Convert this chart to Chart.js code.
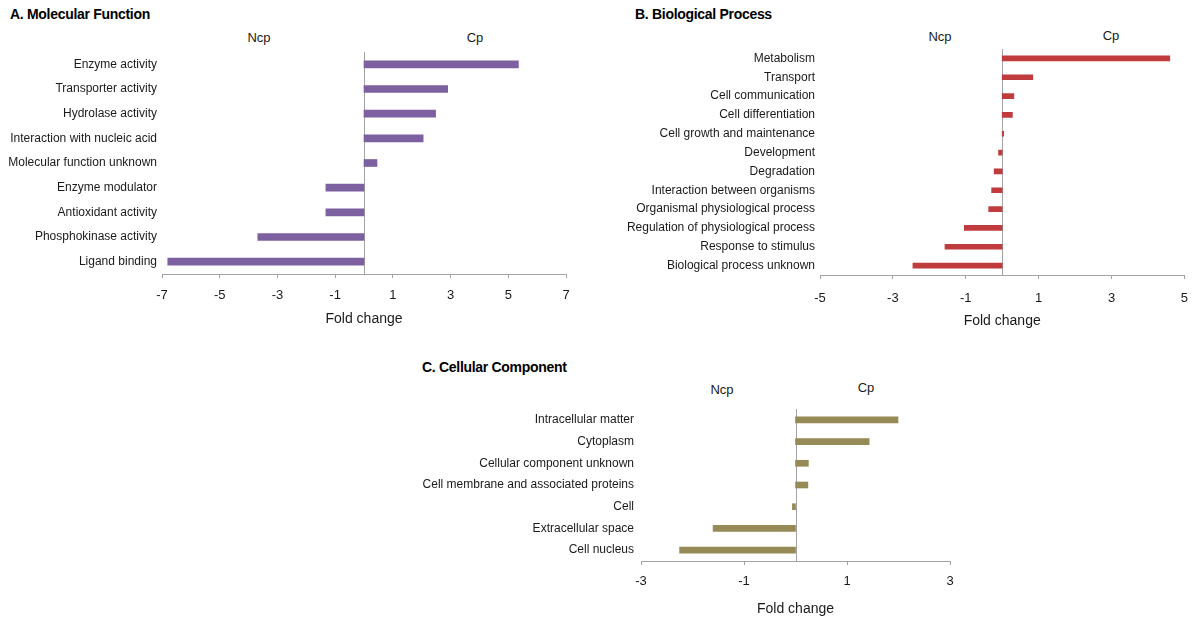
<!DOCTYPE html>
<html><head><meta charset="utf-8">
<script src="https://cdn.jsdelivr.net/npm/chart.js@4.4.0/dist/chart.umd.min.js"></script>
<style>
body{margin:0;background:#fff;width:1200px;height:618px;overflow:hidden;position:relative;font-family:"Liberation Sans",Arial,sans-serif;}
.t{position:absolute;font-weight:bold;font-size:14px;letter-spacing:-0.3px;color:#000;line-height:16px;transform:translateY(-50%);white-space:nowrap;}
.lab{position:absolute;font-size:13px;color:#1a1a1a;transform:translate(-50%,-50%);line-height:15px;}
canvas{position:absolute;}
</style></head><body>
<div class="t" style="left:10px;top:14px">A. Molecular Function</div>
<div class="t" style="left:635px;top:14px">B. Biological Process</div>
<div class="t" style="left:422px;top:367px">C. Cellular Component</div>
<div class="lab" style="left:259px;top:37px">Ncp</div>
<div class="lab" style="left:475px;top:37px">Cp</div>
<div class="lab" style="left:940px;top:36px">Ncp</div>
<div class="lab" style="left:1111px;top:35px">Cp</div>
<div class="lab" style="left:722px;top:389px">Ncp</div>
<div class="lab" style="left:866px;top:387px">Cp</div>
<canvas id="cA" width="600" height="330" style="left:0;top:0"></canvas>
<canvas id="cB" width="600" height="330" style="left:600px;top:0"></canvas>
<canvas id="cC" width="600" height="268" style="left:400px;top:350px"></canvas>
<script>
// A. Molecular Function
const mfCategories = ["Enzyme activity","Transporter activity","Hydrolase activity","Interaction with nucleic acid","Molecular function unknown","Enzyme modulator","Antioxidant activity","Phosphokinase activity","Ligand binding"];
const mfValues = [5.35, 2.9, 2.48, 2.05, 0.45, -1.32, -1.32, -3.68, -6.8];
const mfTicks = [-7, -5, -3, -1, 1, 3, 5, 7];

// B. Biological Process
const bpCategories = ["Metabolism","Transport","Cell communication","Cell differentiation","Cell growth and maintenance","Development","Degradation","Interaction between organisms","Organismal physiological process","Regulation of physiological process","Response to stimulus","Biological process unknown"];
const bpValues = [4.6, 0.84, 0.32, 0.28, 0.04, -0.1, -0.22, -0.29, -0.37, -1.04, -1.57, -2.45];
const bpTicks = [-5, -3, -1, 1, 3, 5];

// C. Cellular Component
const ccCategories = ["Intracellular matter","Cytoplasm","Cellular component unknown","Cell membrane and associated proteins","Cell","Extracellular space","Cell nucleus"];
const ccValues = [1.99, 1.43, 0.25, 0.24, -0.06, -1.6, -2.25];
const ccTicks = [-3, -1, 1, 3];

const AXIS = '#a3a3a3';
const TXT = '#1a1a1a';
const FONT = '"Liberation Sans", Arial, sans-serif';

const zeroLine = {
  id: 'zeroLine',
  beforeDatasetsDraw(chart) {
    const ctx = chart.ctx;
    const x = Math.round(chart.scales.x.getPixelForValue(0)) + 0.5;
    const {top, bottom} = chart.chartArea;
    ctx.save();
    ctx.strokeStyle = AXIS;
    ctx.lineWidth = 1;
    ctx.beginPath();
    ctx.moveTo(x, top);
    ctx.lineTo(x, bottom);
    ctx.stroke();
    ctx.restore();
  }
};

function makeChart(id, cats, vals, ticks, color, g) {
  new Chart(document.getElementById(id), {
    type: 'bar',
    data: { labels: cats, datasets: [{ data: vals, backgroundColor: color, borderWidth: 0, barThickness: g.bar }] },
    plugins: [zeroLine],
    options: {
      indexAxis: 'y',
      responsive: false,
      animation: false,
      layout: { padding: { left: 0, right: g.right, top: g.top, bottom: 0 } },
      plugins: { legend: { display: false }, tooltip: { enabled: false } },
      scales: {
        x: {
          type: 'linear',
          min: ticks[0], max: ticks[ticks.length - 1],
          afterBuildTicks: s => { s.ticks = ticks.map(v => ({ value: v })); },
          afterFit: s => { s.height = g.xh; },
          ticks: { font: { family: FONT, size: 13 }, color: TXT, padding: g.tp, maxRotation: 0, autoSkip: false, callback: v => String(v) },
          grid: { drawOnChartArea: false, drawTicks: true, tickLength: 4, color: AXIS },
          border: { color: AXIS },
          title: { display: true, text: 'Fold change', font: { family: FONT, size: 14 }, color: TXT, padding: { top: 0, bottom: g.pb } }
        },
        y: {
          type: 'category',
          afterFit: s => { s.width = g.yw; },
          ticks: { font: { family: FONT, size: 12 }, color: TXT, padding: g.yp, autoSkip: false },
          grid: { display: false, drawTicks: false },
          border: { display: false }
        }
      }
    }
  });
}

makeChart('cA', mfCategories, mfValues, mfTicks, '#7d60a0', { bar: 7, right: 34, top: 52, xh: 56, tp: 10, pb: 2, yw: 162, yp: 5 });
makeChart('cB', bpCategories, bpValues, bpTicks, '#bf3b3e', { bar: 5, right: 15, top: 49, xh: 55, tp: 12, pb: 0, yw: 220, yp: 5 });
makeChart('cC', ccCategories, ccValues, ccTicks, '#968a56', { bar: 6, right: 50, top: 59, xh: 57, tp: 9, pb: 0, yw: 241, yp: 7 });
</script>
</body></html>
